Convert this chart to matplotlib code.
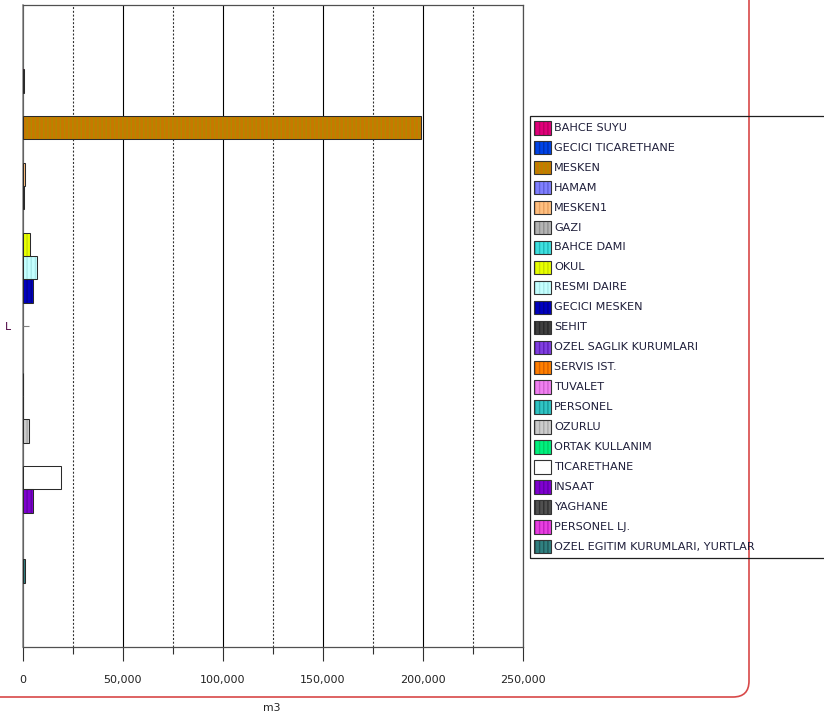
import matplotlib
matplotlib.use("Agg")
import matplotlib.pyplot as plt
from matplotlib.patches import Rectangle, FancyBboxPatch
from matplotlib.transforms import Affine2D
from matplotlib.ticker import MultipleLocator, FuncFormatter

plt.rcParams['font.family'] = ['DejaVu Sans']
plt.rcParams['hatch.linewidth'] = 1.0

W, H = 824, 716

# Consumption per subscriber type (m3)
category = ["L"]
series = [
    "BAHCE SUYU", "GECICI TICARETHANE", "MESKEN", "HAMAM", "MESKEN1", "GAZI",
    "BAHCE DAMI", "OKUL", "RESMI DAIRE", "GECICI MESKEN", "SEHIT",
    "OZEL SAGLIK KURUMLARI", "SERVIS IST.", "TUVALET", "PERSONEL", "OZURLU",
    "ORTAK KULLANIM", "TICARETHANE", "INSAAT", "YAGHANE", "PERSONEL LJ.",
    "OZEL EGITIM KURUMLARI, YURTLAR",
]
values = [600, 0, 199000, 0, 1300, 500,
          0, 3700, 7400, 5400, 0,
          0, 0, 400, 400, 3400,
          0, 19200, 5400, 0, 0,
          1300]
fill_colors = [
    "#e0007a", "#0044e8", "#c87800", "#8080ff", "#ffc080", "#b4b4b4",
    "#40e0e0", "#e8ff00", "#c4ffff", "#0000c0", "#404040",
    "#8040e0", "#ff8000", "#f080f0", "#30c4c4", "#cccccc",
    "#00f080", "#ffffff", "#8000d0", "#505050", "#e840e0",
    "#308080",
]
stripe_colors = [
    "#b80060", "#0030b0", "#b08a00", "#6060d8", "#e8a060", "#909090",
    "#20b8b8", "#c8dc00", "#a8e8e8", "#000090", "#282828",
    "#6020b8", "#d86000", "#d060d0", "#189898", "#a8a8a8",
    "#00d060", "#ffffff", "#6000a8", "#303030", "#c020c0",
    "#205858",
]
x_ticks = [0, 50000, 100000, 150000, 200000, 250000]
x_label = "m3"

fig = plt.figure(figsize=(W / 100, H / 100), dpi=100)
px = Affine2D().scale(1 / W, 1 / H) + fig.transFigure

ax_left, ax_right, ax_top, ax_bottom = 22.5, 522.7, 5, 647
ax = fig.add_axes([ax_left / W, 1 - ax_bottom / H,
                   (ax_right - ax_left) / W, (ax_bottom - ax_top) / H])

n = len(series)
group = 0.8
bh = group / n
ypos = [-group / 2 + (i + 0.5) * bh for i in range(n)]
lws = [0.75 if v > 0 else 0 for v in values]

# striped fill, then the outline on top
ax.barh(ypos, values, height=bh, color=fill_colors, edgecolor=stripe_colors,
        hatch="||||", linewidth=0, zorder=3)
ax.barh(ypos, values, height=bh, fill=False, edgecolor="#2a2a2a",
        linewidth=lws, zorder=4)

ax.set_xlim(0, 250000)
ax.set_ylim(0.5, -0.5)
ax.set_yticks([0])
ax.set_yticklabels(category, color="#4a0040", fontsize=7.8)
ax.tick_params(axis="y", direction="in", length=4.3, width=0.8,
               color="#808080", pad=8)

ax.xaxis.set_major_locator(MultipleLocator(50000))
ax.xaxis.set_minor_locator(MultipleLocator(25000))
ax.set_xticks(x_ticks)
ax.xaxis.set_major_formatter(FuncFormatter(lambda v, p: f"{int(v):,}"))
ax.tick_params(axis="x", which="major", direction="out", length=10,
               width=0.8, color="#303030", labelsize=8,
               labelcolor="#222222", pad=10)
ax.tick_params(axis="x", which="minor", direction="out", length=5,
               width=0.8, color="#303030")

ax.grid(axis="x", which="major", color="#000000", linewidth=0.8,
        linestyle="-", zorder=1)
ax.grid(axis="x", which="minor", color="#303030", linewidth=0.8,
        linestyle=(0, (1.8, 1.6)), zorder=1)
ax.set_axisbelow(True)

for side, sp in ax.spines.items():
    sp.set_color("#505050")
    sp.set_linewidth(0.9)
ax.spines["left"].set_color("#808080")
ax.spines["left"].set_linewidth(1.1)

fig.text(272 / W, 1 - 708 / H, x_label, ha="center", va="center",
         fontsize=7.8, color="#222222")

# legend box
leg_x0, leg_y0, leg_y1 = 530.5, 116, 557.5
fig.patches.append(Rectangle((leg_x0, H - leg_y1), 320, leg_y1 - leg_y0,
                             transform=px, fill=False, edgecolor="#202020",
                             linewidth=0.9, zorder=5))
row0, step = 127.8, 19.95
for i, name in enumerate(series):
    yc = row0 + i * step
    y_bot = H - (yc + 6.7)
    fig.patches.append(Rectangle((534, y_bot), 17, 13.4, transform=px,
                                 facecolor=fill_colors[i],
                                 edgecolor=stripe_colors[i], hatch="||||",
                                 linewidth=0, zorder=6))
    fig.patches.append(Rectangle((534, y_bot), 17, 13.4, transform=px,
                                 fill=False, edgecolor="#333333",
                                 linewidth=0.8, zorder=7))
    fig.text(554 / W, 1 - yc / H, name, ha="left", va="center",
             fontsize=8.1, color="#1e1e3a")

# rounded red frame
fig.patches.append(FancyBboxPatch((-30, H - 697), 749 + 30, 800,
                                  boxstyle="round,pad=0,rounding_size=16",
                                  transform=px, fill=False,
                                  edgecolor="#d84848", linewidth=1.2,
                                  zorder=0))

fig.savefig("out.png", dpi=100)
